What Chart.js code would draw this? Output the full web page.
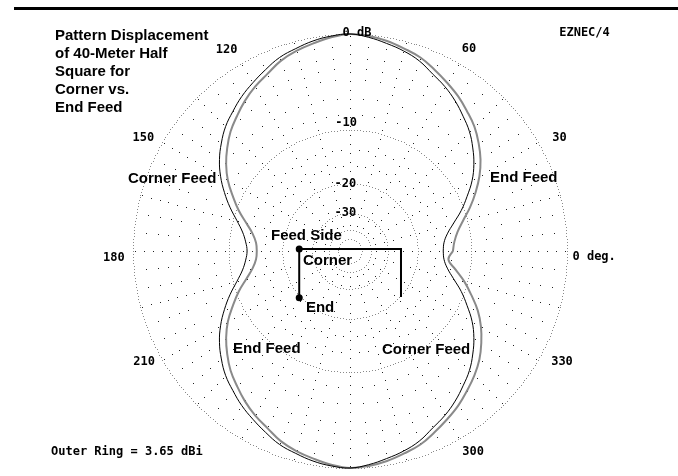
<!DOCTYPE html>
<html>
<head>
<meta charset="utf-8">
<title>Pattern Displacement</title>
<script src="https://cdn.jsdelivr.net/npm/chart.js@4.4.1/dist/chart.umd.min.js"></script>
<style>
  html, body { margin: 0; padding: 0; background: #fff; }
  #wrap { position: relative; width: 678px; height: 476px; }
</style>
</head>
<body>
<div id="wrap"><canvas id="polar"></canvas></div>
<script>
'use strict';

// azimuth, degrees (0 = right, counter clockwise)
const azimuth = [
  0, 5, 10, 15, 20, 25, 30, 35, 40, 45, 50, 55, 60, 65, 70, 75, 80, 85,
  90, 95, 100, 105, 110, 115, 120, 125, 130, 135, 140, 145, 150, 155, 160, 165, 170, 175,
  180, 185, 190, 195, 200, 205, 210, 215, 220, 225, 230, 235, 240, 245, 250, 255, 260, 265,
  270, 275, 280, 285, 290, 295, 300, 305, 310, 315, 320, 325, 330, 335, 340, 345, 350, 355
];

// black trace, dB below outer ring
const traceBlackDb = [
  -14.5, -14.3, -13.5, -12.1, -10.4, -8.9, -7.4, -6.2, -5.2, -4.3, -3.6, -2.9, -2.3, -1.8, -1.2, -0.8, -0.5, -0.2,
  0, -0.1, -0.3, -0.6, -0.9, -1.4, -1.9, -2.4, -3.0, -3.6, -4.4, -5.3, -6.4, -7.7, -9.1, -10.6, -11.8, -12.5,
  -12.8, -12.5, -11.8, -10.6, -9.1, -7.7, -6.4, -5.3, -4.4, -3.6, -3.0, -2.4, -1.9, -1.4, -0.9, -0.6, -0.3, -0.1,
  0, -0.2, -0.5, -0.8, -1.2, -1.8, -2.3, -2.9, -3.6, -4.3, -5.2, -6.2, -7.4, -8.9, -10.4, -12.1, -13.5, -14.3
];

// gray trace, dB below outer ring
const traceGrayDb = [
  -12.8, -12.5, -11.8, -10.6, -9.1, -7.7, -6.4, -5.3, -4.4, -3.6, -3.0, -2.4, -1.9, -1.4, -0.9, -0.6, -0.3, -0.1,
  0, -0.2, -0.5, -0.8, -1.2, -1.8, -2.3, -2.9, -3.6, -4.3, -5.2, -6.2, -7.4, -8.9, -10.4, -12.1, -13.5, -14.3,
  -14.5, -14.3, -13.5, -12.1, -10.4, -8.9, -7.4, -6.2, -5.2, -4.3, -3.6, -2.9, -2.3, -1.8, -1.2, -0.8, -0.5, -0.2,
  0, -0.1, -0.3, -0.6, -0.9, -1.4, -1.9, -2.4, -3.0, -3.6, -4.3, -5.2, -6.2, -7.4, -8.9, -10.4, -12.1, -13.5
];

// grid
const ringDb = [0, -10, -20, -30, -40, -50];
const minorRingDb = [-1, -2, -3, -4, -6, -8, -13, -16];
const rayDeg = [0, 15, 30, 45, 60, 75, 90, 105, 120, 135, 150, 165, 180, 195, 210, 225, 240, 255, 270, 285, 300, 315, 330, 345];

// labels
const ringLabels = ['0 dB', '-10', '-20', '-30'];
const angleLabels = ['0 deg.', '30', '60', '120', '150', '180', '210', '300', '330'];
const titleLines = ['Pattern Displacement', 'of 40-Meter Half', 'Square for', 'Corner vs.', 'End Feed'];
const noteLabels = ['Corner Feed', 'End Feed', 'End Feed', 'Corner Feed', 'Feed Side', 'Corner', 'End'];

// ARRL log scale: radius shrinks by 0.89 for every 2 dB
function dbToRadius(db) {
  return Math.pow(0.89, -db / 2);
}

function polarPoints(angles, values) {
  const pts = angles.map((deg, i) => {
    const r = dbToRadius(values[i]);
    const a = deg * Math.PI / 180;
    return { x: r * Math.cos(a), y: r * Math.sin(a) };
  });
  pts.push(pts[0]); // close the loop
  return pts;
}

// where texts sit, in plot units (outer ring = 1)
const ringLabelPos = [[0.032, 1.005], [-0.018, 0.590], [-0.021, 0.311], [-0.021, 0.177]];
const angleLabelPos = [[1.125, -0.028], [0.965, 0.521], [0.548, 0.931], [-0.569, 0.929], [-0.952, 0.521],
  [-1.088, -0.030], [-0.949, -0.512], [0.567, -0.926], [0.977, -0.512]];
const noteLabelPos = [[-1.023, 0.334], [0.645, 0.339], [-0.539, -0.452], [0.147, -0.456],
  [-0.364, 0.069], [-0.217, -0.044], [-0.203, -0.260]];
const antennaSketch = [[-0.234, -0.215], [-0.234, 0.009], [0.235, 0.009], [0.235, -0.212]];

const monoFont = 'bold 12px "DejaVu Sans Mono", monospace';
const sansFont = 'bold 15px "Liberation Sans", Arial, sans-serif';

const polarDecor = {
  id: 'polarDecor',
  beforeDraw(chart) {
    const { ctx, width, height } = chart;
    ctx.save();
    ctx.fillStyle = '#fff';
    ctx.fillRect(0, 0, width, height);
    ctx.restore();
  },
  beforeDatasetsDraw(chart) {
    const { ctx, scales: { x, y } } = chart;
    const cx = x.getPixelForValue(0), cy = y.getPixelForValue(0);
    const unit = x.getPixelForValue(1) - cx;
    const dot = (px, py) => ctx.fillRect(Math.round(px), Math.round(py), 1, 1);
    ctx.save();

    // radial dotted lines
    ctx.fillStyle = '#222';
    rayDeg.forEach(deg => {
      const a = deg * Math.PI / 180;
      for (let r = 0.12 * unit; r <= unit * 1.02; r += 9) {
        dot(cx + r * Math.cos(a), cy - r * Math.sin(a));
      }
    });

    // sparse arcs
    minorRingDb.forEach(db => {
      const r = dbToRadius(db) * unit;
      for (let deg = 0; deg < 360; deg += 5) {
        if (deg % 15 === 0) continue;
        const a = deg * Math.PI / 180;
        dot(cx + r * Math.cos(a), cy - r * Math.sin(a));
      }
    });

    // main rings
    ctx.fillStyle = '#8a8a8a';
    ringDb.forEach(db => {
      const r = dbToRadius(db) * unit;
      const n = Math.round(2 * Math.PI * r / 3);
      for (let k = 0; k < n; k++) {
        const a = 2 * Math.PI * k / n;
        dot(cx + r * Math.cos(a), cy - r * Math.sin(a));
      }
    });

    // antenna sketch
    const sx = p => x.getPixelForValue(p[0]);
    const sy = p => y.getPixelForValue(p[1]);
    ctx.strokeStyle = '#000';
    ctx.lineWidth = 2;
    ctx.beginPath();
    antennaSketch.forEach((p, i) => i ? ctx.lineTo(sx(p), sy(p)) : ctx.moveTo(sx(p), sy(p)));
    ctx.stroke();
    ctx.fillStyle = '#000';
    antennaSketch.slice(0, 2).forEach(p => {
      ctx.beginPath();
      ctx.arc(sx(p), sy(p), 3.5, 0, 2 * Math.PI);
      ctx.fill();
    });
    ctx.restore();
  },
  afterDatasetsDraw(chart) {
    const { ctx, scales: { x, y } } = chart;
    const px = v => x.getPixelForValue(v);
    const py = v => y.getPixelForValue(v);
    ctx.save();
    ctx.fillStyle = '#000';
    ctx.textBaseline = 'middle';

    // heavy rule at the top
    ctx.fillRect(14, 7, 664, 3);

    ctx.font = monoFont;
    ctx.textAlign = 'center';
    ringLabels.forEach((t, i) => ctx.fillText(t, px(ringLabelPos[i][0]), py(ringLabelPos[i][1])));
    angleLabels.forEach((t, i) => ctx.fillText(t, px(angleLabelPos[i][0]), py(angleLabelPos[i][1])));
    ctx.fillText('EZNEC/4', 584.5, 33);
    ctx.textAlign = 'left';
    ctx.fillText('Outer Ring = 3.65 dBi', 51, 452);

    ctx.font = sansFont;
    noteLabels.forEach((t, i) => ctx.fillText(t, px(noteLabelPos[i][0]), py(noteLabelPos[i][1])));
    ctx.font = 'bold 15px "Liberation Sans", Arial, sans-serif';
    titleLines.forEach((t, i) => ctx.fillText(t, 55, 36 + i * 18));
    ctx.restore();
  }
};

new Chart(document.getElementById('polar'), {
  type: 'scatter',
  data: {
    datasets: [
      {
        label: 'black',
        data: polarPoints(azimuth, traceBlackDb),
        showLine: true,
        borderColor: '#000',
        borderWidth: 1,
        pointRadius: 0,
        tension: 0.4,
        order: 1
      },
      {
        label: 'gray',
        data: polarPoints(azimuth, traceGrayDb),
        showLine: true,
        borderColor: '#8a8a8a',
        borderWidth: 2,
        pointRadius: 0,
        tension: 0.4,
        order: 2
      }
    ]
  },
  options: {
    responsive: true,
    maintainAspectRatio: false,
    animation: false,
    layout: { padding: 0 },
    plugins: {
      legend: { display: false },
      tooltip: { enabled: false }
    },
    scales: {
      x: { type: 'linear', display: false, min: -350 / 217, max: 328 / 217 },
      y: { type: 'linear', display: false, min: -225 / 217, max: 251 / 217 }
    }
  },
  plugins: [polarDecor]
});
</script>
</body>
</html>
